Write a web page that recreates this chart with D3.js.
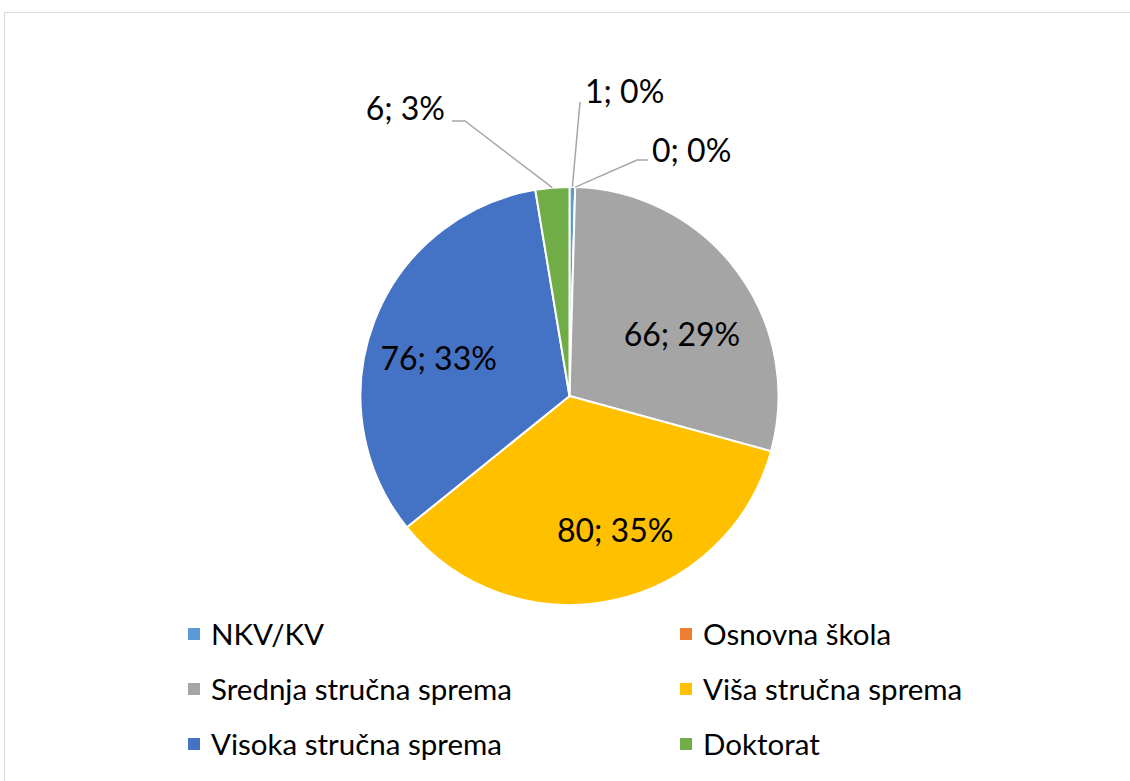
<!DOCTYPE html>
<html>
<head>
<meta charset="utf-8">
<script src="https://cdn.jsdelivr.net/npm/d3@7"></script>
<style>
  html, body { margin: 0; padding: 0; background: #fff; }
  svg { display: block; }
</style>
</head>
<body>
<svg id="chart" width="1130" height="781"></svg>
<script>
// ---- data ----
const categories = ["NKV/KV", "Osnovna škola", "Srednja stručna sprema", "Viša stručna sprema", "Visoka stručna sprema", "Doktorat"];
const values = [1, 0, 66, 80, 76, 6];
const colors = ["#5B9BD5", "#ED7D31", "#A5A5A5", "#FFC000", "#4472C4", "#70AD47"];

// ---- layout (label placement, not data) ----
const W = 1130, H = 781;
const cx = 569.5, cy = 396, R = 209;
const FONT = "Lato, 'Open Sans', sans-serif";
// inside labels: nudge from centroid (px); outside labels: leader line elbows + text anchor relative to centre
const labelLayout = [
  { outside: true, pts: [[10.5, -294]], text: [15.5, -305], anchor: "start" },
  { outside: true, pts: [[67.5, -236], [78.5, -236]], text: [82.5, -246], anchor: "start" },
  { outside: false, nudge: [0, 22] },
  { outside: false, nudge: [17, -3] },
  { outside: false, nudge: [0, 12] },
  { outside: true, pts: [[-104.5, -275], [-117.5, -275]], text: [-124.5, -288], anchor: "end" }
];

const svg = d3.select("#chart");

// chart frame
svg.append("rect")
  .attr("x", 4.5).attr("y", 12.5)
  .attr("width", W + 20).attr("height", H + 20)
  .attr("fill", "#fff").attr("stroke", "#D9D9D9").attr("stroke-width", 1);

const total = d3.sum(values);
const data = categories.map((c, i) => ({ cat: c, value: values[i], color: colors[i], layout: labelLayout[i] }));

const pie = d3.pie().value(d => d.value).sort(null).startAngle(0).endAngle(2 * Math.PI);
const arcs = pie(data);
const arc = d3.arc().innerRadius(0).outerRadius(R);
const labelArc = d3.arc().innerRadius(140).outerRadius(140);

const g = svg.append("g").attr("transform", `translate(${cx},${cy})`);

g.selectAll("path.slice")
  .data(arcs)
  .join("path")
  .attr("class", "slice")
  .attr("d", arc)
  .attr("fill", d => d.data.color)
  .attr("stroke", "#fff")
  .attr("stroke-width", 2)
  .attr("stroke-linejoin", "round");

const fmt = d => `${d.data.value}; ${Math.round(d.data.value / total * 100)}%`;
const capHalf = 11.5;

arcs.forEach(d => {
  const L = d.data.layout;
  if (L.outside) {
    const mid = (d.startAngle + d.endAngle) / 2;
    const start = [R * Math.sin(mid), -R * Math.cos(mid)];
    const pts = [start].concat(L.pts);
    g.append("path")
      .attr("d", d3.line()(pts))
      .attr("fill", "none")
      .attr("stroke", "#A6A6A6")
      .attr("stroke-width", 1.5);
    g.append("text")
      .attr("x", L.text[0]).attr("y", L.text[1] + capHalf)
      .attr("text-anchor", L.anchor)
      .attr("font-family", FONT).attr("font-size", 32)
      .attr("fill", "#000")
      .text(fmt(d));
  } else {
    const c = labelArc.centroid(d);
    g.append("text")
      .attr("x", c[0] + L.nudge[0]).attr("y", c[1] + L.nudge[1] + capHalf)
      .attr("text-anchor", "middle")
      .attr("font-family", FONT).attr("font-size", 32)
      .attr("fill", "#000")
      .text(fmt(d));
  }
});

// legend
const legCols = [188, 680];
const legRows = [634, 689, 744];
const leg = svg.append("g");
data.forEach((d, i) => {
  const x = legCols[i % 2], y = legRows[Math.floor(i / 2)];
  leg.append("rect")
    .attr("x", x).attr("y", y - 6).attr("width", 12).attr("height", 12)
    .attr("fill", d.color);
  leg.append("text")
    .attr("x", x + 23).attr("y", y + 10.5)
    .attr("font-family", FONT).attr("font-size", 29.5)
    .attr("fill", "#000")
    .text(d.cat);
});
</script>
</body>
</html>
